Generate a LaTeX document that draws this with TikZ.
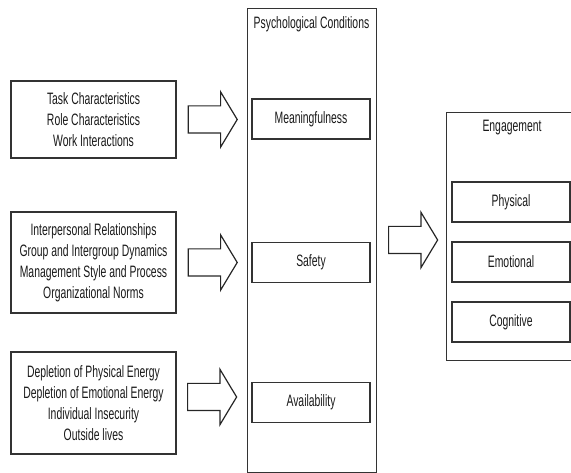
\documentclass[tikz,border=0pt]{standalone}
\usepackage{fontspec}
\setmainfont{Liberation Sans}[FakeStretch=0.63]
\usetikzlibrary{positioning,shapes.arrows}

\begin{document}
\begin{tikzpicture}[x=1pt,y=-1pt,
		every node/.style={text=black!90, font=\fontsize{16.5}{21}\selectfont},
		factor/.style={draw=black!80, line width=1.2pt, minimum width=165pt, align=center},
		cond/.style={draw=black!80, line width=1.2pt, minimum width=118pt, minimum height=40pt},
		outer/.style={draw=black!80, line width=1pt},
		fatarrow/.style={draw=black!85, line width=1.2pt, single arrow, inner xsep=0pt, inner ysep=13pt,
			minimum height=49pt, single arrow head extend=14pt,
			single arrow tip angle=118, anchor=west}]
		\useasboundingbox (0,0) rectangle (571,473);
		%% antecedents
		\node[factor, minimum height=77pt] (task) at (93.5,119.5)
			{Task Characteristics\\Role Characteristics\\Work Interactions};
		\node[factor, minimum height=101pt] (inter) at (93.5,262.5)
			{Interpersonal Relationships\\Group and Intergroup Dynamics\\Management Style and Process\\Organizational Norms};
		\node[factor, minimum height=102pt] (deplete) at (93.5,403)
			{Depletion of Physical Energy\\Depletion of Emotional Energy\\Individual Insecurity\\Outside lives};
		%% psychological conditions
		\node[outer, minimum width=129pt, minimum height=463pt] (psych) at (311.5,240.5) {};
		\node (psychtitle) at (311.5,24) {Psychological Conditions};
		\node[cond] (mean) at (311,119) {Meaningfulness};
		\node[cond] (safety) at (311,262.5) {Safety};
		\node[cond] (avail) at (311,402.5) {Availability};
		%% engagement
		\node[outer, minimum width=130pt, minimum height=248pt] (engage) at (511,237) {};
		\node (engagetitle) at (512,128) {Engagement};
		\node[cond] (physical) at (511,202) {Physical};
		\node[cond] (emotional) at (511,262) {Emotional};
		\node[cond] (cognitive) at (511,322) {Cognitive};
		%% arrows
		\node[fatarrow, right=11pt of task] (arr1) {};
		\node[fatarrow, right=11pt of inter] (arr2) {};
		\node[fatarrow] (arr3) at (187,397) {};
		\node[fatarrow] (arr4) at (388,240) {};
	\end{tikzpicture}
\end{document}
